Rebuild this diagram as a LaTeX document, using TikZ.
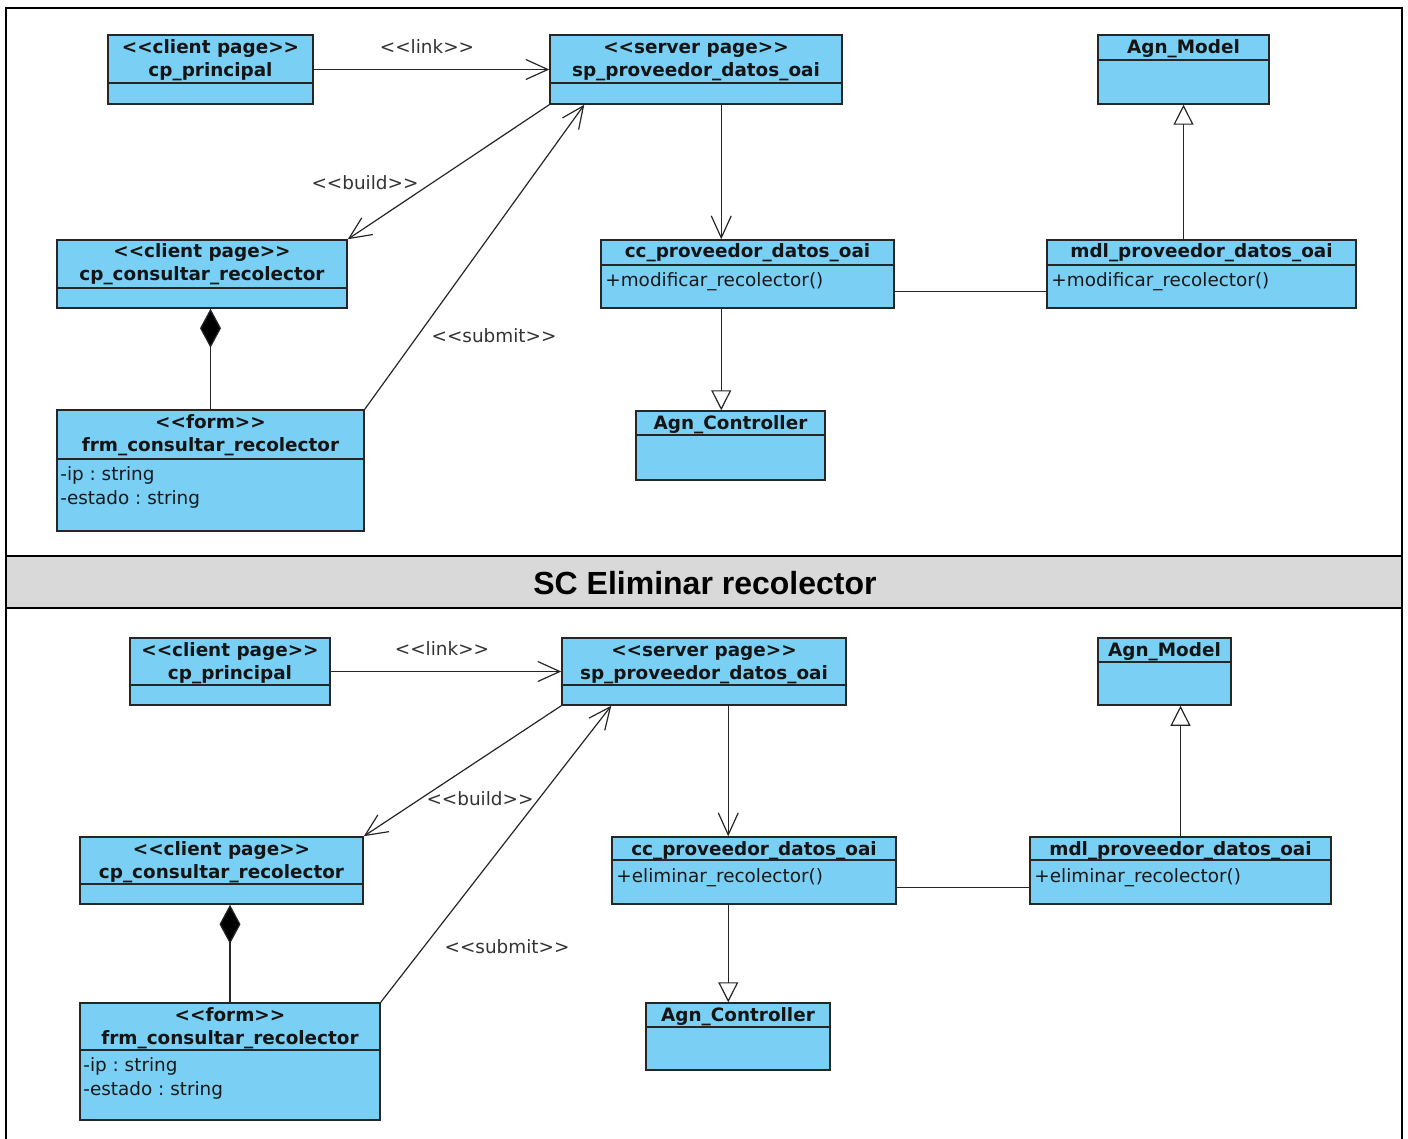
\documentclass[tikz,border=0pt]{standalone}
\usepackage{fontspec}
\setmainfont{DejaVu Sans}[Ligatures=TeXOff]
\newfontfamily\titlefont{Liberation Sans}
\usetikzlibrary{arrows.meta,fit,calc}
\definecolor{umlfill}{RGB}{122,207,244}
\definecolor{bandgray}{RGB}{217,217,217}
\frenchspacing

% class box: name, x1, y1, x2, y2, y of the compartment divider
\newcommand\umlclass[6]{%
  \node[cls, fit={(#2,#3) (#4,#5)}] (#1) {};
  \draw[divider] (#2,#6) -- (#4,#6);}

\begin{document}
\begin{tikzpicture}[x=0.5pt,y=-0.5pt,
  cls/.style={draw=black!85, fill=umlfill, line width=0.75pt, inner sep=0pt, rectangle},
  divider/.style={draw=black!85, line width=0.75pt},
  hd/.style={font=\fontsize{9.2}{11}\selectfont\bfseries, anchor=base, inner sep=0pt, text=black!92},
  op/.style={font=\fontsize{9.2}{11}\selectfont, anchor=base west, inner sep=0pt, text=black!90},
  lbl/.style={font=\fontsize{9.2}{11}\selectfont, anchor=base, inner sep=0pt, text=black!80},
  conn/.style={line width=0.6pt, draw=black!85},
  nav/.style={conn, -{Straight Barb[length=11pt,width=10pt]}},
  gen/.style={conn, -{Triangle[open,length=10pt,width=10pt,fill=white]}},
  comp/.style={conn, -{Diamond[length=19.5pt,width=10.5pt,fill=black]}},
  frame/.style={line width=1pt, draw=black}]

\useasboundingbox (0,0) rectangle (1408,1139);

% ---------- frames and section band ----------
\draw[frame] (6,8) rectangle (1402,556);
\draw[frame, fill=bandgray] (6,556) rectangle (1402,608);
\draw[frame] (6,608) -- (6,1139);
\draw[frame] (1402,608) -- (1402,1139);
\node[font=\titlefont\fontsize{16}{19}\selectfont\bfseries, anchor=base, inner sep=0pt] (title) at (705,594) {SC Eliminar recolector};

% ================= upper diagram =================
\umlclass{cpp1}{108}{35}{313}{104}{83}
\node[hd] (cpp1s) at (210.5,54) {<<client page>>};
\node[hd] (cpp1n) at (210.5,77) {cp\_principal};

\umlclass{sp1}{550}{35}{842}{104}{83}
\node[hd] (sp1s) at (696,54) {<<server page>>};
\node[hd] (sp1n) at (696,77) {sp\_proveedor\_datos\_oai};

\umlclass{mod1}{1098}{35}{1269}{104}{60}
\node[hd] (mod1n) at (1183.5,53.5) {Agn\_Model};

\umlclass{cpc1}{57}{240}{347}{308}{288}
\node[hd] (cpc1s) at (202,258) {<<client page>>};
\node[hd] (cpc1n) at (202,281) {cp\_consultar\_recolector};

\umlclass{frm1}{57}{410}{364}{531}{459}
\node[hd] (frm1s) at (210.5,428) {<<form>>};
\node[hd] (frm1n) at (210.5,451.5) {frm\_consultar\_recolector};
\node[op] (frm1a) at (60,480) {-ip : string};
\node[op] (frm1b) at (60,504) {-estado : string};

\umlclass{cc1}{601}{240}{894}{308}{265}
\node[hd] (cc1n) at (747.5,258) {cc\_proveedor\_datos\_oai};
\node[op] (cc1o) at (605,286) {+modificar\_recolector()};

\umlclass{mdl1}{1047}{240}{1356}{308}{265}
\node[hd] (mdl1n) at (1201.5,258) {mdl\_proveedor\_datos\_oai};
\node[op] (mdl1o) at (1051,286) {+modificar\_recolector()};

\umlclass{ctl1}{636}{411}{825}{480}{435}
\node[hd] (ctl1n) at (730.5,429) {Agn\_Controller};

% connectors
\draw[nav] (cpp1.east) -- (cpp1.east -| sp1.west);
\node[lbl] (lk1) at (427,53.5) {<<link>>};
\draw[nav] (sp1.south west) -- (cpc1.north east);
\node[lbl] (bd1) at (365,190) {<<build>>};
\coordinate (sb1) at ($(sp1.south west)+(35,0)$);
\draw[nav] (frm1.north east) -- (sb1);
\node[lbl] (sm1) at (494,343) {<<submit>>};
\coordinate (dx1) at ($(sp1.south west)+(172,0)$);
\draw[nav] (dx1) -- (dx1 |- cc1.north);
\draw[gen] (dx1 |- cc1.south) -- (dx1 |- ctl1.north);
\draw[comp] (frm1.north) -- (frm1.north |- cpc1.south);
\draw[gen] (mod1.south |- mdl1.north) -- (mod1.south);
\coordinate (as1) at ($(cc1.south east)+(0,-17)$);
\draw[conn] (as1) -- (as1 -| mdl1.west);

% ================= lower diagram =================
\umlclass{cpp2}{130}{638}{330}{705}{685}
\node[hd] (cpp2s) at (230,656) {<<client page>>};
\node[hd] (cpp2n) at (230,679) {cp\_principal};

\umlclass{sp2}{562}{638}{846}{705}{685}
\node[hd] (sp2s) at (704,656) {<<server page>>};
\node[hd] (sp2n) at (704,679) {sp\_proveedor\_datos\_oai};

\umlclass{mod2}{1098}{638}{1231}{705}{662}
\node[hd] (mod2n) at (1164.5,656) {Agn\_Model};

\umlclass{cpc2}{80}{837}{363}{904}{884}
\node[hd] (cpc2s) at (221.5,855) {<<client page>>};
\node[hd] (cpc2n) at (221.5,878) {cp\_consultar\_recolector};

\umlclass{frm2}{80}{1003}{380}{1120}{1050}
\node[hd] (frm2s) at (230,1021) {<<form>>};
\node[hd] (frm2n) at (230,1044) {frm\_consultar\_recolector};
\node[op] (frm2a) at (83,1071.5) {-ip : string};
\node[op] (frm2b) at (83,1095) {-estado : string};

\umlclass{cc2}{612}{837}{896}{904}{860}
\node[hd] (cc2n) at (754,855) {cc\_proveedor\_datos\_oai};
\node[op] (cc2o) at (616,882) {+eliminar\_recolector()};

\umlclass{mdl2}{1030}{837}{1331}{904}{860}
\node[hd] (mdl2n) at (1180.5,855) {mdl\_proveedor\_datos\_oai};
\node[op] (mdl2o) at (1034,882) {+eliminar\_recolector()};

\umlclass{ctl2}{646}{1003}{830}{1070}{1027}
\node[hd] (ctl2n) at (738,1021) {Agn\_Controller};

% connectors
\draw[nav] (cpp2.east) -- (cpp2.east -| sp2.west);
\node[lbl] (lk2) at (442,655) {<<link>>};
\draw[nav] (sp2.south west) -- (cpc2.north east);
\node[lbl] (bd2) at (480,805) {<<build>>};
\coordinate (sb2) at ($(sp2.south west)+(50,0)$);
\draw[nav] (frm2.north east) -- (sb2);
\node[lbl] (sm2) at (507,953) {<<submit>>};
\coordinate (dx2) at ($(sp2.south west)+(167,0)$);
\draw[nav] (dx2) -- (dx2 |- cc2.north);
\draw[gen] (dx2 |- cc2.south) -- (dx2 |- ctl2.north);
\draw[comp] (frm2.north) -- (frm2.north |- cpc2.south);
\draw[gen] (mdl2.north) -- (mdl2.north |- mod2.south);
\coordinate (as2) at ($(cc2.south east)+(0,-17)$);
\draw[conn] (as2) -- (as2 -| mdl2.west);

\end{tikzpicture}
\end{document}
